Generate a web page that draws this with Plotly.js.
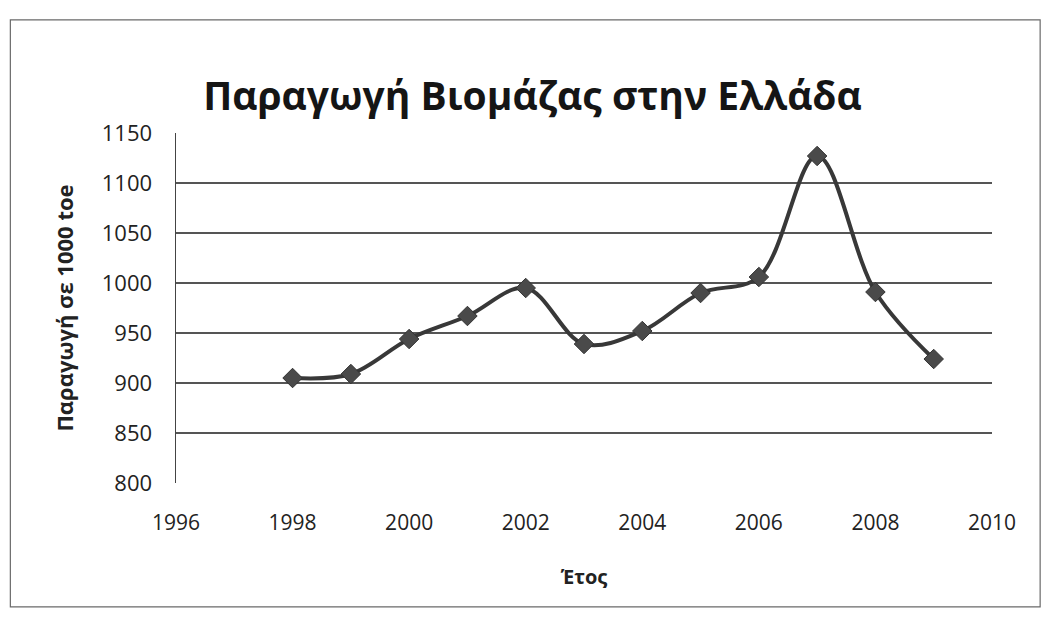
<!DOCTYPE html>
<html>
<head>
<meta charset="utf-8">
<script src="https://cdn.plot.ly/plotly-3.0.1.min.js"></script>
<style>
  html, body { margin: 0; padding: 0; background: #ffffff; }
  #chart { width: 1044px; height: 624px; }
</style>
</head>
<body>
<div id="chart"></div>
<script>
// Biomass production in Greece, thousand toe per year
const years = [1998, 1999, 2000, 2001, 2002, 2003, 2004, 2005, 2006, 2007, 2008, 2009];
const production = [905, 909, 944, 967, 995, 939, 952, 990, 1006, 1127, 991, 924];

const xTicks = [1996, 1998, 2000, 2002, 2004, 2006, 2008, 2010];
const yTicks = [800, 850, 900, 950, 1000, 1050, 1100, 1150];

const baseFont = "Open Sans, Liberation Sans, sans-serif";
const ink = "#222222";

const trace = {
  x: years,
  y: production,
  type: "scatter",
  mode: "lines+markers",
  line: { shape: "spline", smoothing: 1, color: "#383838", width: 4 },
  marker: { symbol: "diamond", size: 15, color: "#4a4a4a", line: { color: "#333333", width: 1 } },
  hoverinfo: "x+y"
};

const layout = {
  width: 1044,
  height: 624,
  paper_bgcolor: "#ffffff",
  plot_bgcolor: "#ffffff",
  margin: { l: 176, r: 52, t: 133, b: 141 },
  showlegend: false,
  title: {
    text: "Παραγωγή Βιομάζας στην Ελλάδα",
    font: { family: baseFont, size: 39, color: "#151515", weight: "bold" },
    x: 0.51, xanchor: "center",
    y: 0.846, yanchor: "middle"
  },
  xaxis: {
    range: [1996, 2010],
    tickvals: xTicks,
    ticktext: xTicks.map(String),
    showgrid: false,
    zeroline: false,
    showline: false,
    ticks: "",
    ticklabelstandoff: 25,
    tickfont: { family: baseFont, size: 21, color: ink },
    title: {
      text: "Έτος",
      font: { family: baseFont, size: 20, color: ink, weight: "bold" },
      standoff: 34
    }
  },
  yaxis: {
    range: [800, 1150],
    tickvals: yTicks,
    ticktext: yTicks.map(String),
    showgrid: true,
    gridcolor: "#555555",
    gridwidth: 1.5,
    zeroline: false,
    showline: true,
    linecolor: "#444444",
    linewidth: 1.5,
    ticks: "",
    ticklabelstandoff: 18,
    tickfont: { family: baseFont, size: 22, color: ink },
    title: {
      text: "Παραγωγή σε 1000 toe",
      font: { family: baseFont, size: 22, color: ink, weight: "bold" },
      standoff: 22
    }
  },
  shapes: [
    {
      type: "rect", xref: "paper", yref: "paper",
      x0: -0.203, x1: 1.059, y0: -0.354, y1: 1.323,
      line: { color: "#6a6a6a", width: 1.2 }, fillcolor: "rgba(0,0,0,0)"
    }
  ]
};

Plotly.newPlot("chart", [trace], layout, { displayModeBar: false, staticPlot: true });
</script>
</body>
</html>
